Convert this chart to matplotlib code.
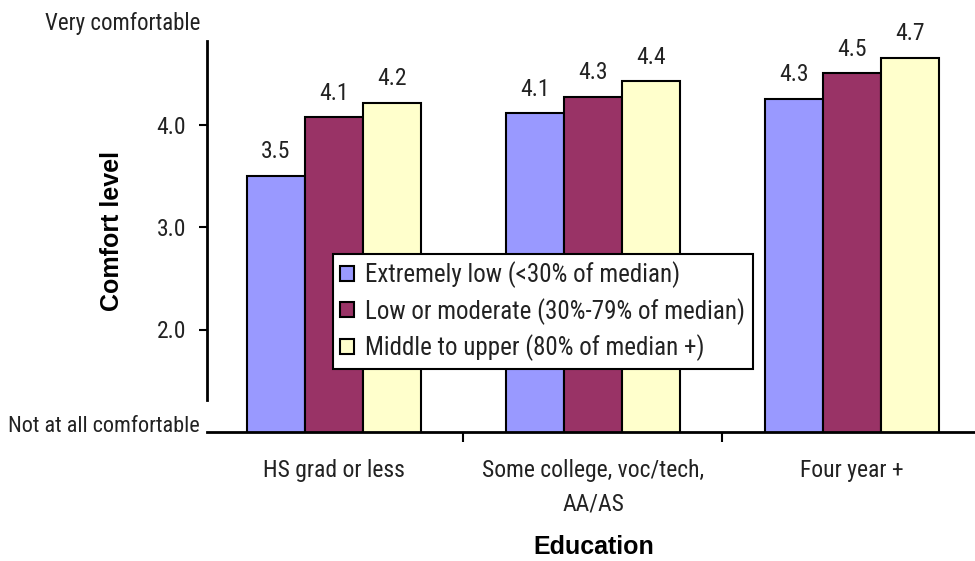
import matplotlib
matplotlib.use("Agg")
import matplotlib.pyplot as plt
import matplotlib.transforms as mtransforms
from matplotlib import font_manager
import numpy as np

# data
categories = ["HS grad or less", "Some college, voc/tech,\nAA/AS", "Four year +"]
series_names = ["Extremely low (<30% of median)",
                "Low or moderate (30%-79% of median)",
                "Middle to upper (80% of median +)"]
extremely_low = [3.50, 4.11, 4.25]
low_moderate = [4.07, 4.27, 4.50]
middle_upper = [4.21, 4.42, 4.65]
value_labels = [["3.5", "4.1", "4.3"],
                ["4.1", "4.3", "4.5"],
                ["4.2", "4.4", "4.7"]]
colors = ["#9999FF", "#993366", "#FFFFCC"]
yticks = [2.0, 3.0, 4.0]

# narrow sans like the original (Arial Narrow look), with fallback
installed = {f.name for f in font_manager.fontManager.ttflist}
narrow = "DejaVu Sans"
for cand in ["Liberation Sans Narrow", "Arial Narrow", "Roboto Condensed", "Archivo Narrow"]:
    if cand in installed:
        narrow = cand
        break
plt.rcParams["font.family"] = [narrow, "DejaVu Sans"]
plt.rcParams["text.color"] = "#222222"

fig = plt.figure(figsize=(9.75, 5.61), dpi=100)
ax = fig.add_axes([207 / 975, 1 - 432 / 561, 1 - 207 / 975, 410 / 561])

x = np.arange(len(categories))
w = 0.224
all_series = [extremely_low, low_moderate, middle_upper]
for i, (vals, col, name) in enumerate(zip(all_series, colors, series_names)):
    bars = ax.bar(x + (i - 1) * w, vals, w, bottom=0, color=col, edgecolor="black",
                  linewidth=1.5, label=name, zorder=2)
    for b, lab in zip(bars, value_labels[i]):
        ax.annotate(lab, (b.get_x() + b.get_width() / 2, b.get_height()),
                    xytext=(0, 9), textcoords="offset points", ha="center",
                    va="bottom", fontsize=17)

ax.set_ylim(1, 5)
ax.set_xlim(-0.49, 2.475)

ax.spines["top"].set_visible(False)
ax.spines["right"].set_visible(False)
ax.spines["left"].set_bounds(1.31, 4.81)
ax.spines["left"].set_linewidth(2)
ax.spines["bottom"].set_linewidth(2)

ax.set_yticks(yticks)
ax.set_yticklabels([f"{t:.1f}" for t in yticks], fontsize=17, color="#222222")
ax.tick_params(axis="y", length=6, width=1.5, pad=9)

# tick marks between groups, labels at group centres
ax.set_xticks([0.5, 1.5])
ax.set_xticklabels(["", ""])
ax.tick_params(axis="x", which="major", length=7, width=1.5)
ax.set_xticks(x, minor=True)
ax.set_xticklabels(categories, minor=True, fontsize=17, linespacing=1.6, color="#222222")
ax.tick_params(axis="x", which="minor", length=0, pad=19.5)

trans = mtransforms.blended_transform_factory(ax.transAxes, ax.transData)
ax.text(-0.009, 1.0, "Not at all comfortable", transform=trans, ha="right",
        va="baseline", fontsize=16, clip_on=False)
ax.text(-0.009, 4.92, "Very comfortable", transform=trans, ha="right",
        va="baseline", fontsize=16.5, clip_on=False)

fig.text(112 / 975, 1 - 231 / 561, "Comfort level", rotation=90, ha="center",
         va="center", fontsize=18, fontweight="bold", family="Liberation Sans",
         color="black")
fig.text(594 / 975, 1 - 554 / 561, "Education", ha="center", va="baseline",
         fontsize=18, fontweight="bold", family="Liberation Sans", color="black")

leg = ax.legend(loc="upper left", bbox_to_anchor=(0.164, 0.434), borderaxespad=0,
                fontsize=18, frameon=True, fancybox=False, edgecolor="black",
                framealpha=1, handlelength=0.55, handleheight=0.55, handletextpad=0.45,
                labelspacing=0.38, borderpad=0.3)
leg.get_frame().set_linewidth(1.5)
leg.set_zorder(5)
for h in leg.legend_handles:
    h.set_linewidth(1.5)

fig.savefig("out.png", dpi=100)
